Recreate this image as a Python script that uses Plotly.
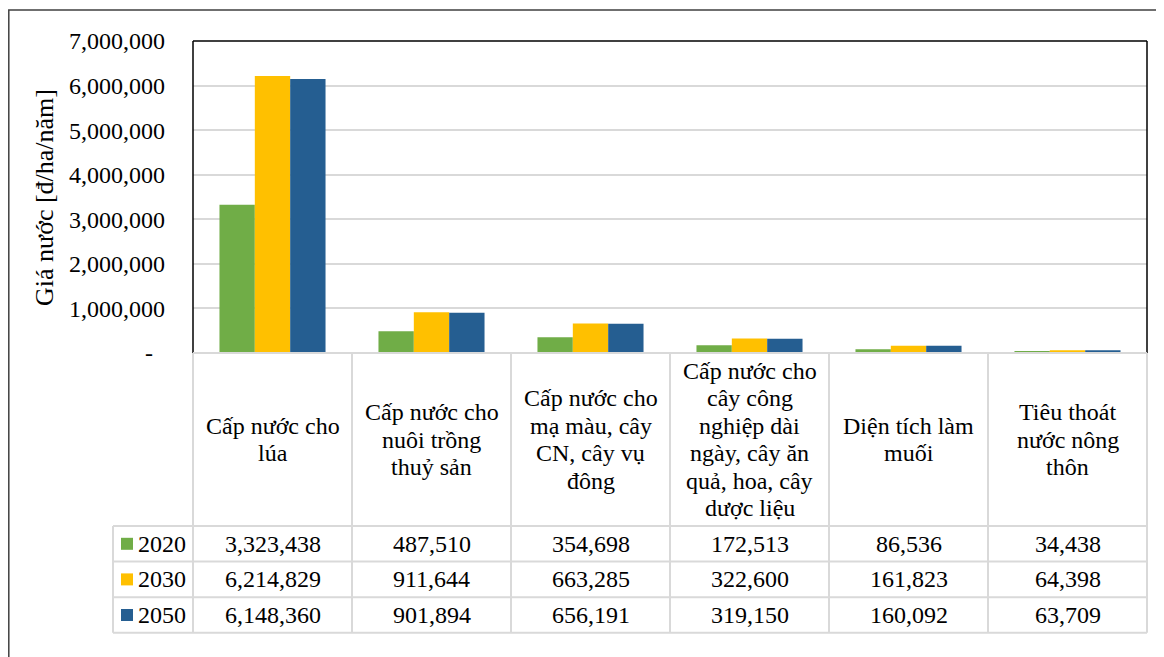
import plotly.graph_objects as go

# ---------------- data ----------------
categories = [
    "Cấp nước cho\nlúa",
    "Cấp nước cho\nnuôi trồng\nthuỷ sản",
    "Cấp nước cho\nmạ màu, cây\nCN, cây vụ\nđông",
    "Cấp nước cho\ncây công\nnghiệp dài\nngày, cây ăn\nquả, hoa, cây\ndược liệu",
    "Diện tích làm\nmuối",
    "Tiêu thoát\nnước nông\nthôn",
]
series_names = ["2020", "2030", "2050"]
values_2020 = [3323438, 487510, 354698, 172513, 86536, 34438]
values_2030 = [6214829, 911644, 663285, 322600, 161823, 64398]
values_2050 = [6148360, 901894, 656191, 319150, 160092, 63709]
y_ticks = [0, 1000000, 2000000, 3000000, 4000000, 5000000, 6000000, 7000000]
y_title = "Giá nước [đ/ha/năm]"

# ---------------- style ----------------
colors = ["#70AD47", "#FFC000", "#255E91"]
OFF = 8                      # browser body margin
W, H = 1164 - OFF, 657 - OFF  # figure size
FONT = "Liberation Serif, Times New Roman, serif"
FS = 24
GRID = "#D9D9D9"

def fx(p):
    return (p - OFF) / W

def fy(p):
    return 1 - (p - OFF) / H

# pixel layout (viewport coordinates)
PL, PR, PT, PB = 193, 1147, 41, 353
LEG_L = 113
HEAD_B = 526
ROW_H = 35.6
LINE_H = 27.5

series_values = [values_2020, values_2030, values_2050]
xs = list(range(len(categories)))

fig = go.Figure()
for name, vals, col in zip(series_names, series_values, colors):
    fig.add_trace(go.Bar(x=xs, y=vals, name=name, marker=dict(color=col, line=dict(width=0)),
                         showlegend=False, hoverinfo="y+name"))

fig.update_layout(
    width=W, height=H,
    margin=dict(l=0, r=0, t=0, b=0, pad=0, autoexpand=False),
    paper_bgcolor="white", plot_bgcolor="white",
    barmode="group", bargap=0.333, bargroupgap=0,
    font=dict(family=FONT, size=FS, color="black"),
    xaxis=dict(domain=[fx(PL), fx(PR)], range=[-0.5, len(categories) - 0.5],
               showticklabels=False, showgrid=False, zeroline=False, showline=False,
               automargin=False, fixedrange=True),
    yaxis=dict(domain=[fy(PB), fy(PT)], range=[0, 7000000],
               tickvals=y_ticks,
               ticktext=[("-\u00a0\u00a0" if v == 0 else f"{v:,}") for v in y_ticks],
               showgrid=True, gridcolor=GRID, gridwidth=1.5,
               zeroline=False, showline=False, ticks="",
               ticklabelstandoff=27, automargin=False, fixedrange=True,
               tickfont=dict(family=FONT, size=FS, color="black")),
)

shapes = []
# outer chart border
shapes.append(dict(type="rect", xref="paper", yref="paper",
                   x0=fx(8.8), x1=fx(1175), y0=fy(10), y1=fy(680),
                   line=dict(color="#404040", width=1.5)))
# plot area border (top, left, right) black
for (x0, y0, x1, y1) in [(PL, PT, PR, PT), (PL, PT, PL, PB), (PR, PT, PR, PB)]:
    shapes.append(dict(type="line", xref="paper", yref="paper",
                       x0=fx(x0), y0=fy(y0), x1=fx(x1), y1=fy(y1),
                       line=dict(color="black", width=1.5)))

# data table grid
n = len(categories)
col_w = (PR - PL) / n
row_ys = [HEAD_B + i * ROW_H for i in range(len(series_names) + 1)]
table_bottom = row_ys[-1]

def gline(x0, y0, x1, y1):
    shapes.append(dict(type="line", xref="paper", yref="paper",
                       x0=fx(x0), y0=fy(y0), x1=fx(x1), y1=fy(y1),
                       line=dict(color=GRID, width=2)))

gline(PL, PB, PR, PB)
for ry in row_ys:
    gline(LEG_L, ry, PR, ry)
for i in range(n + 1):
    gline(PL + i * col_w, PB, PL + i * col_w, table_bottom)
gline(LEG_L, HEAD_B, LEG_L, table_bottom)

annotations = []
# y-axis title
annotations.append(dict(text=y_title, xref="paper", yref="paper",
                        x=fx(44), y=fy(198), showarrow=False,
                        textangle=-90, font=dict(family=FONT, size=26),
                        xanchor="center", yanchor="middle"))
# header cells, one annotation per wrapped line
head_cy = (PB + HEAD_B) / 2
for i, c in enumerate(categories):
    lines = c.split("\n")
    top = head_cy - (len(lines) - 1) * LINE_H / 2
    for k, ln in enumerate(lines):
        annotations.append(dict(text=ln, xref="paper", yref="paper",
                                x=fx(PL + (i + 0.5) * col_w), y=fy(top + k * LINE_H),
                                showarrow=False, align="center",
                                xanchor="center", yanchor="middle",
                                font=dict(family=FONT, size=FS)))
# value rows + legend keys
for r, (name, vals, col) in enumerate(zip(series_names, series_values, colors)):
    cy = row_ys[r] + ROW_H / 2
    shapes.append(dict(type="rect", xref="paper", yref="paper",
                       x0=fx(121), x1=fx(133), y0=fy(cy - 6), y1=fy(cy + 6),
                       fillcolor=col, line=dict(width=0)))
    annotations.append(dict(text=name, xref="paper", yref="paper",
                            x=fx(136), y=fy(cy), showarrow=False,
                            xanchor="left", yanchor="middle",
                            font=dict(family=FONT, size=FS)))
    for i, v in enumerate(vals):
        annotations.append(dict(text=f"{v:,}", xref="paper", yref="paper",
                                x=fx(PL + (i + 0.5) * col_w), y=fy(cy),
                                showarrow=False, xanchor="center", yanchor="middle",
                                font=dict(family=FONT, size=FS)))

fig.update_layout(shapes=shapes, annotations=annotations)
fig.write_html("out.html")
